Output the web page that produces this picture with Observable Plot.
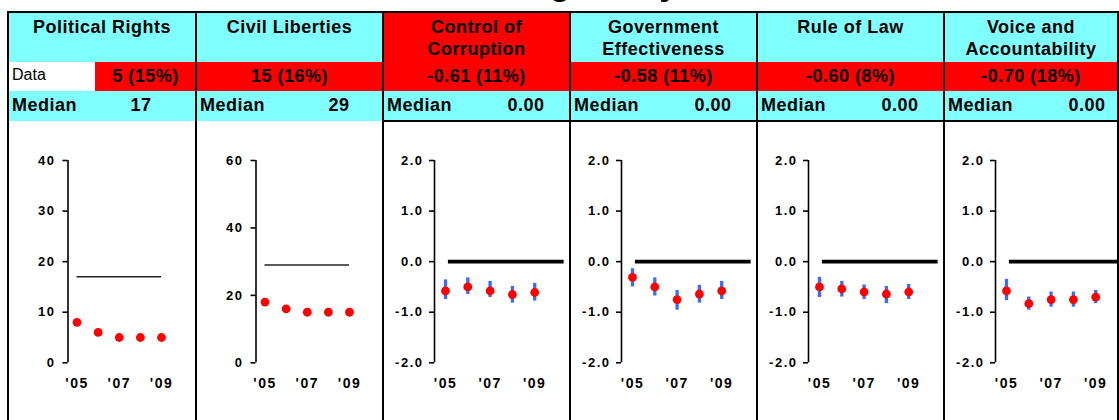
<!DOCTYPE html>
<html>
<head>
<meta charset="utf-8">
<script src="https://cdn.jsdelivr.net/npm/d3@7"></script>
<script src="https://cdn.jsdelivr.net/npm/@observablehq/plot@0.6"></script>
<style>
  html, body { margin: 0; padding: 0; background: #fff; }
  body { width: 1119px; height: 420px; overflow: hidden; position: relative;
         font-family: "Liberation Sans", Arial, Helvetica, sans-serif; color: #000; }
  .abs { position: absolute; box-sizing: border-box; }
  .title { left: 0; top: -33.8px; width: 1119px; padding-left: 24px; text-align: center;
           font-size: 34px; line-height: 34px; font-weight: bold; white-space: nowrap; }
  .hdr { top: 12px; height: 50px; padding: 3.8px 4px 0 4px; text-align: center;
         font-size: 18px; line-height: 22px; font-weight: bold; letter-spacing: 0.5px; }
  .datarow { top: 62px; height: 29px; text-align: center; font-size: 18px; line-height: 29px;
             font-weight: bold; letter-spacing: 0.5px; white-space: nowrap; }
  .datalabel { top: 62px; height: 29px; padding-left: 4px; font-size: 16px; line-height: 25px;
               background: #fff; }
  .medrow { top: 91px; height: 29.5px; font-size: 18px; line-height: 29.5px; font-weight: bold;
            letter-spacing: 0.5px; white-space: nowrap; }
  .line { background: #000; }
  .panel { top: 121px; }
</style>
</head>
<body>
<div id="root"></div>
<script>
// ---------------- data ----------------
const titleText = "Ruling Justly";
const indicators = ["Political Rights", "Civil Liberties", "Control of Corruption",
                    "Government Effectiveness", "Rule of Law", "Voice and Accountability"];
const latestScores = ["5 (15%)", "15 (16%)", "-0.61 (11%)", "-0.58 (11%)", "-0.60 (8%)", "-0.70 (18%)"];
const latestFails = [true, true, true, true, true, true];
const headerFails = [false, false, true, false, false, false];
const medians = [17, 29, 0, 0, 0, 0];
const medianLabels = ["17", "29", "0.00", "0.00", "0.00", "0.00"];
const dataLabel = "Data";
const medianLabel = "Median";

const years = [2005, 2006, 2007, 2008, 2009];
const yearTicks = [2005, 2007, 2009];

const prScores = [8, 6, 5, 5, 5];
const clScores = [18, 16, 15, 15, 15];

const ccScores = [-0.58, -0.50, -0.58, -0.65, -0.61];
const ccLow    = [-0.75, -0.65, -0.71, -0.82, -0.78];
const ccHigh   = [-0.36, -0.32, -0.39, -0.49, -0.43];

const geScores = [-0.31, -0.50, -0.75, -0.64, -0.58];
const geLow    = [-0.50, -0.68, -0.96, -0.82, -0.75];
const geHigh   = [-0.14, -0.32, -0.57, -0.47, -0.39];

const rlScores = [-0.50, -0.54, -0.60, -0.64, -0.60];
const rlLow    = [-0.71, -0.70, -0.75, -0.83, -0.75];
const rlHigh   = [-0.31, -0.39, -0.46, -0.49, -0.45];

const vaScores = [-0.58, -0.83, -0.75, -0.75, -0.70];
const vaLow    = [-0.77, -0.96, -0.90, -0.90, -0.83];
const vaHigh   = [-0.35, -0.70, -0.60, -0.60, -0.57];

const prTicks = [0, 10, 20, 30, 40];
const clTicks = [0, 20, 40, 60];
const wgiTicks = [-2, -1, 0, 1, 2];

// ---------------- layout ----------------
const CYAN = "#80ffff", RED = "#ff0000";
const edges = [8, 196, 383, 570, 757, 944, 1118];

const panels = [
  {scores: prScores, ticks: prTicks, fmt: d => String(d)},
  {scores: clScores, ticks: clTicks, fmt: d => String(d)},
  {scores: ccScores, low: ccLow, high: ccHigh, ticks: wgiTicks, fmt: d => d.toFixed(1)},
  {scores: geScores, low: geLow, high: geHigh, ticks: wgiTicks, fmt: d => d.toFixed(1)},
  {scores: rlScores, low: rlLow, high: rlHigh, ticks: wgiTicks, fmt: d => d.toFixed(1)},
  {scores: vaScores, low: vaLow, high: vaHigh, ticks: wgiTicks, fmt: d => d.toFixed(1)}
];

const root = document.getElementById("root");
function div(cls, styles, text) {
  const el = document.createElement("div");
  el.className = "abs " + cls;
  Object.assign(el.style, styles);
  if (text != null) el.textContent = text;
  root.appendChild(el);
  return el;
}

div("title", {}, titleText);

function makePlot(i, w) {
  const p = panels[i];
  const wgi = !!p.low;
  const ml = wgi ? 51 : 59.5;
  const ppy = wgi ? 22.3 : 21.125;
  const xa = 2005 - (wgi ? 11 : 9) / ppy;
  const xb = xa + (w - ml) / ppy;
  const rows = years.map((year, k) => ({
    year, value: p.scores[k],
    low: wgi ? p.low[k] : null, high: wgi ? p.high[k] : null
  }));
  const med = [{y: medians[i], x1: wgi ? 2005.13 : years[0], x2: wgi ? 2010.32 : years[years.length - 1]}];
  const svg = Plot.plot({
    width: w, height: 300,
    marginLeft: ml, marginRight: 0, marginTop: 39, marginBottom: 58.7,
    x: {domain: [xa, xb], label: null},
    y: {domain: [p.ticks[0], p.ticks[p.ticks.length - 1]], label: null},
    style: {fontFamily: '"Liberation Sans", Arial, sans-serif', color: "#000",
            background: "transparent", letterSpacing: "1.5px", overflow: "visible"},
    marks: [
      Plot.ruleX([xa], {stroke: "#000", strokeWidth: 1.6}),
      Plot.axisY({ticks: p.ticks, tickFormat: p.fmt, tickSize: 5, tickPadding: wgi ? 6 : 7.5,
                  fontSize: 13, fontWeight: "bold", strokeWidth: 1.6, label: null}),
      Plot.axisX({ticks: yearTicks, tickFormat: d => "'" + String(d).slice(2), tickSize: 0,
                  tickPadding: 15, fontSize: 14, fontWeight: "bold", label: null}),
      Plot.ruleY(med, {y: "y", x1: "x1", x2: "x2", stroke: wgi ? "#000" : "#222",
                       strokeWidth: wgi ? 3.6 : 1.6}),
      wgi ? Plot.ruleX(rows, {x: "year", y1: "low", y2: "high", stroke: "#3b6cff", strokeWidth: 3.3}) : null,
      Plot.dot(rows, {x: "year", y: "value", r: 4.4, fill: RED, stroke: "none"})
    ]
  });
  return svg;
}

for (let i = 0; i < indicators.length; i++) {
  const x0 = edges[i], x1 = edges[i + 1], w = x1 - x0;
  // header
  div("hdr", {left: x0 + "px", width: w + "px", background: headerFails[i] ? RED : CYAN}, indicators[i]);
  // data row
  if (i === 0) {
    const split = 95;
    div("datalabel", {left: x0 + "px", width: (split - x0) + "px"}, dataLabel);
    div("datarow", {left: split + "px", width: (x1 - split) + "px",
                    background: latestFails[i] ? RED : CYAN}, latestScores[i]);
  } else {
    div("datarow", {left: x0 + "px", width: w + "px", background: latestFails[i] ? RED : CYAN}, latestScores[i]);
  }
  // median row
  const mr = div("medrow", {left: x0 + "px", width: w + "px", background: CYAN});
  const lab = document.createElement("span");
  lab.textContent = medianLabel;
  Object.assign(lab.style, {position: "absolute", left: "4px"});
  mr.appendChild(lab);
  const val = document.createElement("span");
  val.textContent = medianLabels[i];
  const c = i === 0 ? 133 : 143;
  Object.assign(val.style, {position: "absolute", left: (c - 30) + "px", width: "60px", textAlign: "center"});
  mr.appendChild(val);
  // chart
  const holder = div("panel", {left: x0 + "px", width: w + "px"});
  holder.appendChild(makePlot(i, w));
}

// grid lines
div("line", {left: "8px", top: "11px", width: "1111px", height: "2px"});
for (const e of edges) {
  div("line", {left: (e - 1) + "px", top: "11px", width: "2px", height: "420px"});
}
div("line", {left: "383px", top: "120px", width: "736px", height: "1.5px"});
</script>
</body>
</html>
